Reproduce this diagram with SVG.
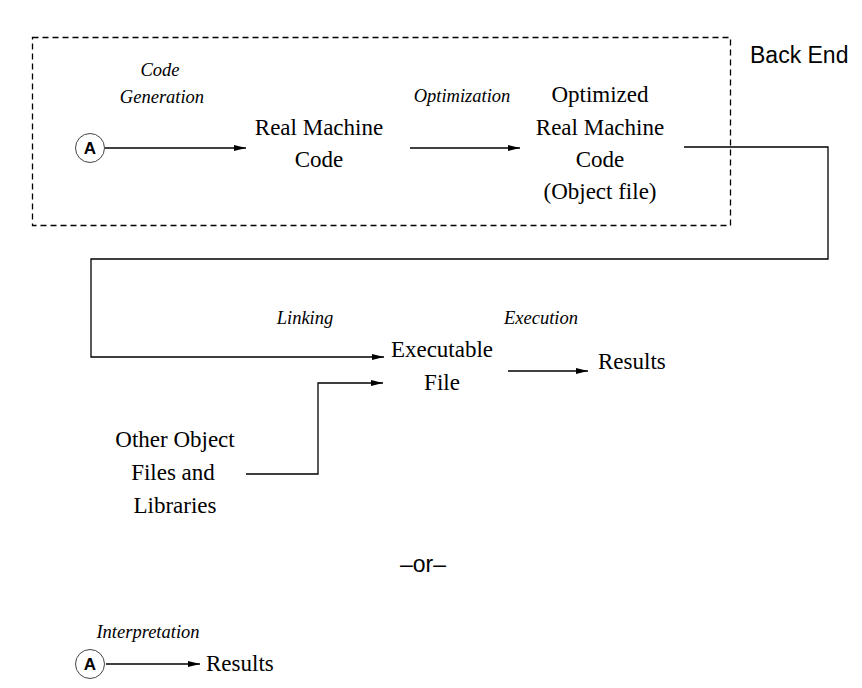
<svg xmlns="http://www.w3.org/2000/svg" width="862" height="688" viewBox="0 0 862 688">
<style>
.n{font-family:"Liberation Serif","Times New Roman",serif;font-size:23px;fill:#000;text-anchor:middle}
.l{font-family:"Liberation Serif","Times New Roman",serif;font-size:18.5px;font-style:italic;fill:#000;text-anchor:middle}
.s{font-family:"Liberation Sans",Arial,sans-serif;font-size:23px;fill:#000}
.a{font-family:"Liberation Sans",Arial,sans-serif;font-size:17px;font-weight:bold;fill:#000;text-anchor:middle}
.c{fill:#fff;stroke:#444;stroke-width:1}
.w{fill:none;stroke:#000;stroke-width:1.3}
</style>
<defs>
<marker id="ah" markerWidth="12" markerHeight="8" refX="12" refY="4" orient="auto" markerUnits="userSpaceOnUse">
<path d="M0,1 L12,4 L0,7 Z" fill="#000"/>
</marker>
</defs>
<rect x="32.5" y="37.5" width="698" height="188" fill="none" stroke="#000" stroke-width="1.3" stroke-dasharray="6,4"/>
<text class="s" x="750" y="63">Back End</text>
<g id="connectors">
<line class="w" x1="105" y1="148" x2="246" y2="148" marker-end="url(#ah)"/>
<line class="w" x1="410" y1="148" x2="520" y2="148" marker-end="url(#ah)"/>
<polyline class="w" points="684,147 828,147 828,259 91,259 91,357 384,357" marker-end="url(#ah)"/>
<polyline class="w" points="246,474 318,474 318,383 383,383" marker-end="url(#ah)"/>
<line class="w" x1="508" y1="371" x2="588" y2="371" marker-end="url(#ah)"/>
<line class="w" x1="106" y1="664" x2="200" y2="664" marker-end="url(#ah)"/>
<text class="l" x="160" y="76">Code</text>
<text class="l" x="162" y="103">Generation</text>
<text class="l" x="462" y="102">Optimization</text>
<text class="l" x="305" y="324">Linking</text>
<text class="l" x="541" y="324">Execution</text>
<text class="l" x="148" y="638">Interpretation</text>
</g>
<g id="startA">
<circle class="c" cx="90" cy="148" r="14.5"/>
<text class="a" x="90" y="154">A</text>
</g>
<g id="realMachineCode">
<text class="n" x="319" y="135">Real Machine</text>
<text class="n" x="319" y="167">Code</text>
</g>
<g id="optimizedCode">
<text class="n" x="600" y="102">Optimized</text>
<text class="n" x="600" y="135">Real Machine</text>
<text class="n" x="600" y="167">Code</text>
<text class="n" x="600" y="199">(Object file)</text>
</g>
<g id="executable">
<text class="n" x="442" y="357">Executable</text>
<text class="n" x="442" y="390">File</text>
</g>
<g id="results1">
<text class="n" x="598" y="369" style="text-anchor:start">Results</text>
</g>
<g id="otherObjects">
<text class="n" x="175" y="447">Other Object</text>
<text class="n" x="173" y="480">Files and</text>
<text class="n" x="175" y="513">Libraries</text>
</g>
<g id="or">
<text class="s" x="423" y="572" style="text-anchor:middle">–or–</text>
</g>
<g id="startA2">
<circle class="c" cx="90" cy="664" r="14.5"/>
<text class="a" x="90" y="670">A</text>
</g>
<g id="results2">
<text class="n" x="206" y="671" style="text-anchor:start">Results</text>
</g>
</svg>
